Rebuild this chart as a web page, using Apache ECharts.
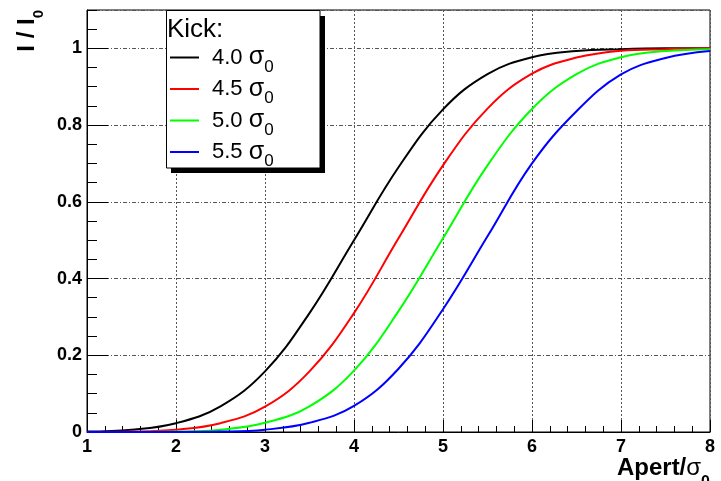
<!DOCTYPE html>
<html>
<head>
<meta charset="utf-8">
<script src="https://cdn.jsdelivr.net/npm/echarts@6/dist/echarts.min.js"></script>
<style>
  html, body { margin: 0; padding: 0; background: #fff; }
  #main { width: 721px; height: 481px; }
</style>
</head>
<body>
<div id="main"></div>
<script>
// values, every 0.5 in Apert/sigma0
var apert  = [1, 1.5, 2, 2.5, 3, 3.5, 4, 4.5, 5, 5.5, 6, 6.5, 7, 7.5, 8];
var kick40 = [0.001, 0.006, 0.023, 0.067, 0.158, 0.31, 0.5, 0.69, 0.841, 0.933, 0.977, 0.993, 0.998, 1.0, 1.0];
var kick45 = [0.0, 0.001, 0.006, 0.023, 0.066, 0.158, 0.31, 0.505, 0.695, 0.843, 0.934, 0.976, 0.994, 0.998, 1.0];
var kick50 = [0.0, 0.0, 0.001, 0.006, 0.024, 0.067, 0.16, 0.315, 0.505, 0.695, 0.842, 0.933, 0.977, 0.993, 0.998];
var kick55 = [0.0, 0.0, 0.0, 0.001, 0.006, 0.024, 0.068, 0.165, 0.32, 0.51, 0.7, 0.836, 0.932, 0.975, 0.993];

var kickNames  = ['4.0', '4.5', '5.0', '5.5'];
var kickColors = ['#000000', '#ff0000', '#00ff00', '#0000ff'];
var kickData   = [kick40, kick45, kick50, kick55];

var font = 'Liberation Sans';

var dom = document.getElementById('main');
var myChart = echarts.init(dom, null, { renderer: 'canvas' });

function pairs(ys) {
  return apert.map(function (x, i) { return [x, ys[i]]; });
}

var series = kickNames.map(function (name, i) {
  return {
    name: name,
    type: 'line',
    data: pairs(kickData[i]),
    smooth: 0.4,
    symbol: 'none',
    color: kickColors[i],
    lineStyle: { width: 2, color: kickColors[i] },
    z: 3
  };
});

var option = {
  backgroundColor: '#fff',
  animation: false,
  grid: {
    left: 87, top: 10, width: 623, height: 422,
    outerBoundsMode: 'none',
    show: true, borderColor: '#000', borderWidth: 1, backgroundColor: 'transparent'
  },
  xAxis: [{
    type: 'value', min: 1, max: 8, interval: 1,
    axisLine: { onZero: false, lineStyle: { color: '#000', width: 1 } },
    axisTick: { inside: true, length: 12, lineStyle: { color: '#000' } },
    minorTick: { show: true, splitNumber: 5, length: 6, lineStyle: { color: '#000' } },
    axisLabel: { color: '#000', fontSize: 18, fontWeight: 'bold', fontFamily: font, margin: 6 },
    splitLine: { show: true, lineStyle: { color: '#555', width: 1, type: [2, 2] } },
    name: '{a|Apert/}{b|σ}{c|0}',
    nameLocation: 'end',
    nameGap: 0,
    nameTextStyle: {
      align: 'right', verticalAlign: 'top', padding: [13, 0, 0, 0],
      rich: {
        a: { fontSize: 24, fontWeight: 'bold', fontFamily: font, color: '#000', lineHeight: 46 },
        b: { fontSize: 24, fontFamily: font, color: '#000', lineHeight: 46 },
        c: { fontSize: 16, fontWeight: 'bold', fontFamily: font, color: '#000', lineHeight: 8, verticalAlign: 'bottom' }
      }
    }
  }],
  yAxis: [{
    type: 'value', min: 0, max: 1.1, interval: 0.2,
    axisLine: { onZero: false, lineStyle: { color: '#000', width: 1 } },
    axisTick: { inside: true, length: 21, lineStyle: { color: '#000' } },
    axisLabel: { color: '#000', fontSize: 18, fontWeight: 'bold', fontFamily: font, margin: 5, showMaxLabel: false },
    splitLine: { show: true, lineStyle: { color: '#555', width: 1, type: [4, 2, 1, 2] } }
  }, {
    // minor ticks every 0.05
    type: 'value', position: 'left', min: 0, max: 1.1, interval: 0.05,
    axisLine: { show: false, onZero: false },
    axisTick: { inside: true, length: 10, lineStyle: { color: '#000' } },
    axisLabel: { show: false },
    splitLine: { show: false }
  }],
  legend: {
    orient: 'vertical',
    left: 170, top: 45,
    padding: 0,
    itemGap: 1,
    itemWidth: 29, itemHeight: 2,
    icon: 'rect',
    z: 10,
    data: kickNames,
    formatter: function (name) { return '{n|' + name + ' }{s|σ}{z|0}'; },
    textStyle: {
      rich: {
        n: { fontSize: 22, fontFamily: font, color: '#000', lineHeight: 36, padding: [0, 0, 0, 8] },
        s: { fontSize: 25, fontFamily: font, color: '#000', lineHeight: 36 },
        z: { fontSize: 17, fontFamily: font, color: '#000', lineHeight: 8, verticalAlign: 'bottom' }
      }
    }
  },
  graphic: [
    { type: 'rect', z: 5, shape: { x: 171, y: 16, width: 154, height: 157 }, style: { fill: '#000' } },
    { type: 'rect', z: 6, shape: { x: 166.5, y: 10.5, width: 153.5, height: 157.5 },
      style: { fill: '#fff', stroke: '#000', lineWidth: 1 } },
    { type: 'text', z: 7, x: 167, y: 30,
      style: { text: 'Kick:', fontSize: 26, fontFamily: font, fill: '#000', verticalAlign: 'middle' } },
    { type: 'text', z: 7, x: 27, y: 10, rotation: Math.PI / 2,
      style: {
        text: '{m|I / I}{s|0}', align: 'right', verticalAlign: 'middle',
        rich: {
          m: { fontSize: 24, fontWeight: 'bold', fontFamily: font, fill: '#000', lineHeight: 38 },
          s: { fontSize: 15, fontWeight: 'bold', fontFamily: font, fill: '#000', lineHeight: 14, verticalAlign: 'bottom' }
        }
      } }
  ],
  series: series
};

myChart.setOption(option);
</script>
</body>
</html>
